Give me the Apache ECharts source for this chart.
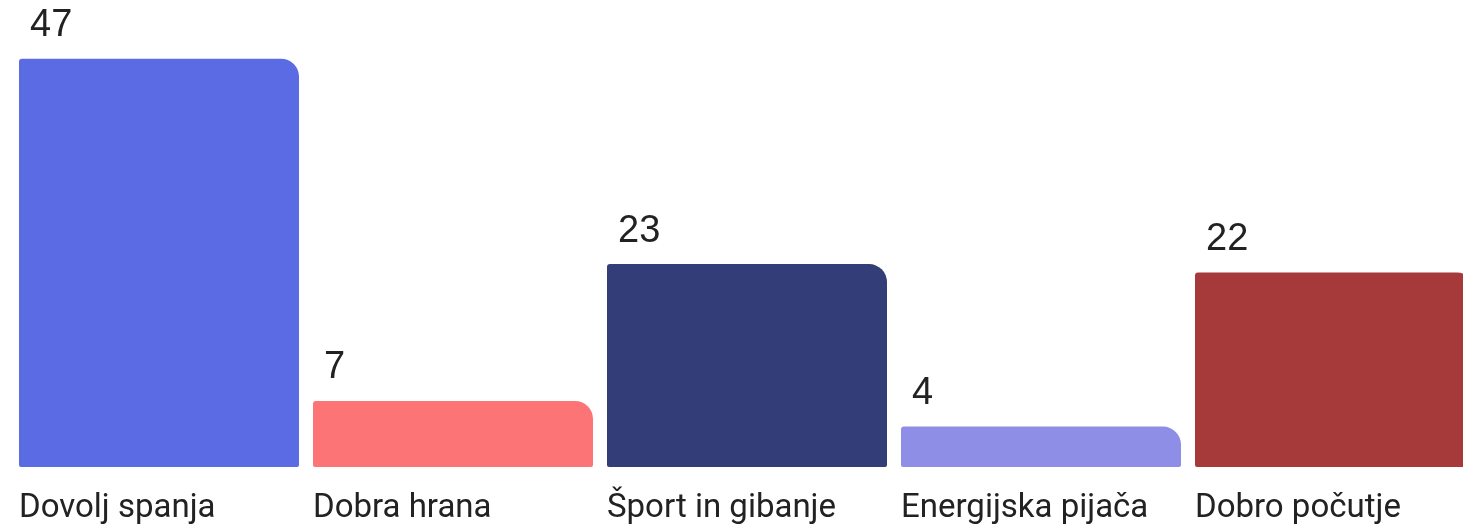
<!DOCTYPE html>
<html>
<head>
<meta charset="utf-8">
<script src="https://cdn.jsdelivr.net/npm/echarts@6/dist/echarts.min.js"></script>
<style>
html,body{margin:0;padding:0;background:#fff;overflow:hidden;width:1463px;height:529px;}
#chart{width:1482px;height:529px;}
</style>
</head>
<body>
<div id="chart"></div>
<script>
const categories = ['Dovolj spanja', 'Dobra hrana', 'Šport in gibanje', 'Energijska pijača', 'Dobro počutje'];
const values = [47, 7, 23, 4, 22];
const colors = ['#5B6BE3', '#FC7475', '#333D78', '#8F8EE6', '#A63A3B'];

const Y_MIN = -0.72;
const chart = echarts.init(document.getElementById('chart'));
chart.setOption({
  animation: false,
  grid: { left: 12, right: 0, top: 0, bottom: 62, containLabel: false },
  xAxis: { type: 'category', data: categories, show: false },
  yAxis: { type: 'value', min: Y_MIN, max: 53.86, show: false },
  series: [{
    type: 'custom',
    clip: false,
    data: values.map((v, i) => [i, v]),
    renderItem: function (params, api) {
      const i = api.value(0);
      const v = api.value(1);
      const top = api.coord([i, v]);
      const base = api.coord([i, Y_MIN]);
      const band = api.size([1, 0])[0];
      const w = band * 280 / 294;
      const x = top[0] - w / 2;
      return {
        type: 'group',
        children: [
          {
            type: 'rect',
            shape: { x: x, y: top[1], width: w, height: base[1] - top[1], r: [3, 18, 2, 2] },
            style: { fill: colors[i] }
          },
          {
            type: 'text',
            style: {
              text: String(values[i]), x: x + 11, y: top[1] - 33,
              fill: '#222', font: '38px "Liberation Sans", Arial, sans-serif',
              align: 'left', verticalAlign: 'middle'
            }
          },
          {
            type: 'text',
            style: {
              text: categories[i], x: x, y: base[1] + 42,
              fill: '#222', font: '33px Roboto, sans-serif',
              align: 'left', verticalAlign: 'middle'
            }
          }
        ]
      };
    }
  }]
});
</script>
</body>
</html>
